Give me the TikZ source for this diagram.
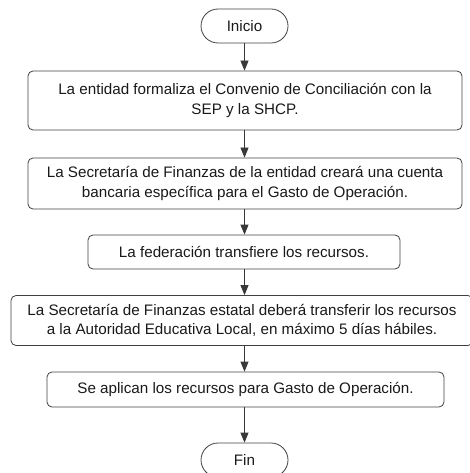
\documentclass[tikz,border=0pt]{standalone}
\usepackage{fontspec}
\setmainfont{Liberation Sans}
\usetikzlibrary{arrows.meta}

\begin{document}
\begin{tikzpicture}[x=1pt, y=-1pt,
  paso/.style={draw=black!75, line width=0.8pt, rounded corners=5pt, align=center, font=\fontsize{15.2}{19.5}\selectfont, text=black!90, inner sep=0pt},
  term/.style={paso, rounded corners=17pt, minimum width=87pt, minimum height=34pt},
  flecha/.style={draw=black!78, line width=0.8pt, -{Triangle[length=10pt,width=8pt]}}]
\useasboundingbox (0,0) rectangle (470,473);
\clip (0,0) rectangle (470,473);

\node[term] (ini) at (244.5,26)  {Inicio};
\node[paso, minimum width=434pt, minimum height=59pt] (p1) at (245,100.5)
  {La entidad formaliza el Convenio de Conciliación con la\\SEP y la SHCP.};
\node[paso, minimum width=434pt, minimum height=51pt] (p2) at (245,183.5)
  {La Secretaría de Finanzas de la entidad creará una cuenta\\bancaria específica para el Gasto de Operación.};
\node[paso, minimum width=312pt, minimum height=34pt] (p3) at (244,252)
  {La federación transfiere los recursos.};
\node[paso, minimum width=462pt, minimum height=50pt] (p4) at (242,320.5)
  {La Secretaría de Finanzas estatal deberá transferir los recursos\\a la Autoridad Educativa Local, en máximo 5 días hábiles.};
\node[paso, minimum width=397pt, minimum height=35pt] (p5) at (245.5,389.5)
  {Se aplican los recursos para Gasto de Operación.};
\node[term] (fin) at (244.5,460) {Fin};

\draw[flecha] (ini) -- (ini|-p1.north);
\draw[flecha] (p1.south-|ini) -- (ini|-p2.north);
\draw[flecha] (p2.south-|ini) -- (ini|-p3.north);
\draw[flecha] (p3.south-|ini) -- (ini|-p4.north);
\draw[flecha] (p4.south-|ini) -- (ini|-p5.north);
\draw[flecha] (p5.south-|ini) -- (fin);
\end{tikzpicture}
\end{document}
